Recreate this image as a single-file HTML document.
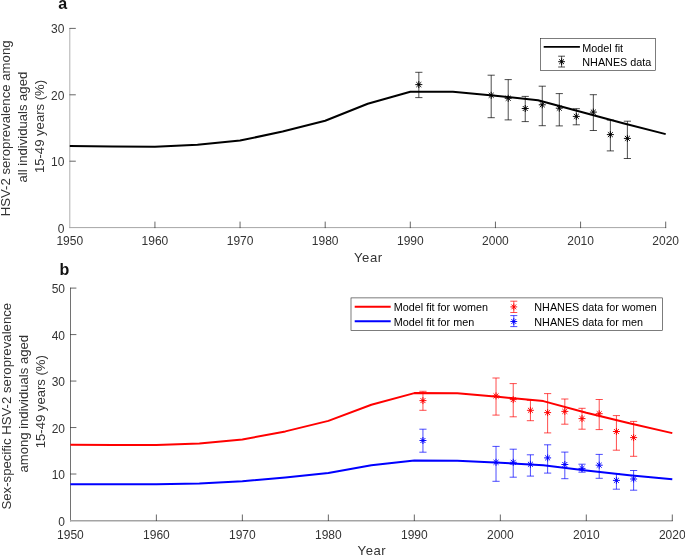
<!DOCTYPE html>
<html lang="en"><head><meta charset="utf-8"><title>HSV-2 seroprevalence model fit</title>
<style>html,body{margin:0;padding:0;background:#fff}body{width:685px;height:556px;overflow:hidden}svg{display:block;will-change:transform}text{font-family:'Liberation Sans', Arial, Helvetica, sans-serif;fill:#333}.tk{font-size:12px}.lb{font-size:13.1px}.lg{font-size:10.8px;fill:#000}.pn{font-size:16px;font-weight:bold;fill:#111}</style>
</head><body>
<svg width="685" height="556" viewBox="0 0 685 556">
<rect width="685" height="556" fill="#fff"/>
<g id="panel-a">
<text class="pn" x="58.3" y="9.2">a</text>
<path d="M69.8 28V228.1" fill="none" stroke="#b0b0b0" stroke-width="1"/>
<path d="M69.3 227.6H666.2" fill="none" stroke="#a6a6a6" stroke-width="1"/>
<path d="M69.5 161.20h6.3M69.5 94.80h6.3M69.5 28.40h6.3M154.93 228.1v-6.5M240.06 228.1v-6.5M325.19 228.1v-6.5M410.31 228.1v-6.5M495.44 228.1v-6.5M580.57 228.1v-6.5M665.70 228.1v-6.5" fill="none" stroke="#262626" stroke-width="0.7"/>
<text class="tk" x="64.4" y="232.60" text-anchor="end">0</text>
<text class="tk" x="64.4" y="166.20" text-anchor="end">10</text>
<text class="tk" x="64.4" y="99.80" text-anchor="end">20</text>
<text class="tk" x="64.4" y="33.40" text-anchor="end">30</text>
<text class="tk" x="69.80" y="245.4" text-anchor="middle">1950</text>
<text class="tk" x="154.93" y="245.4" text-anchor="middle">1960</text>
<text class="tk" x="240.06" y="245.4" text-anchor="middle">1970</text>
<text class="tk" x="325.19" y="245.4" text-anchor="middle">1980</text>
<text class="tk" x="410.31" y="245.4" text-anchor="middle">1990</text>
<text class="tk" x="495.44" y="245.4" text-anchor="middle">2000</text>
<text class="tk" x="580.57" y="245.4" text-anchor="middle">2010</text>
<text class="tk" x="665.70" y="245.4" text-anchor="middle">2020</text>
<text class="lb" x="368.35" y="262.4" text-anchor="middle" letter-spacing="0.55">Year</text>
<text class="lb" style="font-size:13.2px" transform="translate(9.8 128.4) rotate(-90)" text-anchor="middle">HSV-2 seroprevalence among</text>
<text class="lb" transform="translate(26.9 127.1) rotate(-90)" text-anchor="middle">all individuals aged</text>
<text class="lb" transform="translate(43.8 126.5) rotate(-90)" text-anchor="middle">15-49 years (%)</text>
<path d="M418.83 72.30V97.60M415.23 72.30H422.43M415.23 97.60H422.43" stroke="#000" stroke-width="0.7" fill="none"/>
<path d="M491.19 75.20V117.70M487.59 75.20H494.79M487.59 117.70H494.79" stroke="#000" stroke-width="0.7" fill="none"/>
<path d="M508.21 79.60V119.90M504.61 79.60H511.81M504.61 119.90H511.81" stroke="#000" stroke-width="0.7" fill="none"/>
<path d="M525.24 96.40V121.60M521.64 96.40H528.84M521.64 121.60H528.84" stroke="#000" stroke-width="0.7" fill="none"/>
<path d="M542.26 86.20V125.70M538.66 86.20H545.86M538.66 125.70H545.86" stroke="#000" stroke-width="0.7" fill="none"/>
<path d="M559.29 93.60V125.90M555.69 93.60H562.89M555.69 125.90H562.89" stroke="#000" stroke-width="0.7" fill="none"/>
<path d="M576.32 108.70V124.80M572.72 108.70H579.92M572.72 124.80H579.92" stroke="#000" stroke-width="0.7" fill="none"/>
<path d="M593.34 94.70V130.50M589.74 94.70H596.94M589.74 130.50H596.94" stroke="#000" stroke-width="0.7" fill="none"/>
<path d="M610.37 120.10V150.90M606.77 120.10H613.97M606.77 150.90H613.97" stroke="#000" stroke-width="0.7" fill="none"/>
<path d="M627.39 121.20V158.50M623.79 121.20H630.99M623.79 158.50H630.99" stroke="#000" stroke-width="0.7" fill="none"/>
<polyline points="69.80,146.10 112.36,146.50 154.93,146.70 197.49,144.70 240.06,140.60 282.62,131.50 325.19,120.70 367.75,103.80 410.31,91.70 452.88,91.80 495.44,95.70 538.01,100.30 580.57,111.80 623.14,123.30 665.70,134.10" fill="none" stroke="#000" stroke-width="2" stroke-linejoin="round"/>
<path d="M415.33 84.60H422.33M418.83 81.10V88.10M416.35 82.13L421.30 87.07M416.35 87.07L421.30 82.13" stroke="#000" stroke-width="0.95" fill="none"/><circle cx="418.83" cy="84.60" r="0.9" fill="#000"/>
<path d="M487.69 95.30H494.69M491.19 91.80V98.80M488.71 92.83L493.66 97.77M488.71 97.77L493.66 92.83" stroke="#000" stroke-width="0.95" fill="none"/><circle cx="491.19" cy="95.30" r="0.9" fill="#000"/>
<path d="M504.71 98.30H511.71M508.21 94.80V101.80M505.74 95.83L510.69 100.77M505.74 100.77L510.69 95.83" stroke="#000" stroke-width="0.95" fill="none"/><circle cx="508.21" cy="98.30" r="0.9" fill="#000"/>
<path d="M521.74 108.50H528.74M525.24 105.00V112.00M522.76 106.03L527.71 110.97M522.76 110.97L527.71 106.03" stroke="#000" stroke-width="0.95" fill="none"/><circle cx="525.24" cy="108.50" r="0.9" fill="#000"/>
<path d="M538.76 104.80H545.76M542.26 101.30V108.30M539.79 102.33L544.74 107.27M539.79 107.27L544.74 102.33" stroke="#000" stroke-width="0.95" fill="none"/><circle cx="542.26" cy="104.80" r="0.9" fill="#000"/>
<path d="M555.79 108.20H562.79M559.29 104.70V111.70M556.81 105.73L561.76 110.67M556.81 110.67L561.76 105.73" stroke="#000" stroke-width="0.95" fill="none"/><circle cx="559.29" cy="108.20" r="0.9" fill="#000"/>
<path d="M572.82 116.40H579.82M576.32 112.90V119.90M573.84 113.93L578.79 118.87M573.84 118.87L578.79 113.93" stroke="#000" stroke-width="0.95" fill="none"/><circle cx="576.32" cy="116.40" r="0.9" fill="#000"/>
<path d="M589.84 112.10H596.84M593.34 108.60V115.60M590.87 109.63L595.82 114.57M590.87 114.57L595.82 109.63" stroke="#000" stroke-width="0.95" fill="none"/><circle cx="593.34" cy="112.10" r="0.9" fill="#000"/>
<path d="M606.87 134.60H613.87M610.37 131.10V138.10M607.89 132.13L612.84 137.07M607.89 137.07L612.84 132.13" stroke="#000" stroke-width="0.95" fill="none"/><circle cx="610.37" cy="134.60" r="0.9" fill="#000"/>
<path d="M623.89 138.40H630.89M627.39 134.90V141.90M624.92 135.93L629.87 140.87M624.92 140.87L629.87 135.93" stroke="#000" stroke-width="0.95" fill="none"/><circle cx="627.39" cy="138.40" r="0.9" fill="#000"/>
<rect x="540.4" y="38.5" width="115.1" height="31.8" fill="#fff" stroke="#262626" stroke-width="0.6"/>
<path d="M543.7 46.9H579.9" stroke="#000" stroke-width="1.9"/>
<path d="M561.60 56.20V67.00M558.20 56.20H565.00M558.20 67.00H565.00" stroke="#000" stroke-width="0.7" fill="none"/>
<path d="M558.20 61.70H565.00M561.60 58.30V65.10M559.20 59.30L564.00 64.10M559.20 64.10L564.00 59.30" stroke="#000" stroke-width="0.95" fill="none"/><circle cx="561.60" cy="61.70" r="0.9" fill="#000"/>
<text class="lg" x="582.3" y="51.5">Model fit</text>
<text class="lg" x="582.3" y="66.1">NHANES data</text>
</g>
<g id="panel-b">
<text class="pn" x="59.6" y="274.9">b</text>
<path d="M70.5 287.7V521.4" fill="none" stroke="#727272" stroke-width="1"/>
<path d="M70 520.7H672.8" fill="none" stroke="#a4a4a4" stroke-width="1.4"/>
<path d="M70.10000000000001 474.02h6.3M70.10000000000001 427.54h6.3M70.10000000000001 381.06h6.3M70.10000000000001 334.58h6.3M70.10000000000001 288.10h6.3M156.39 521.0v-6.5M242.37 521.0v-6.5M328.36 521.0v-6.5M414.34 521.0v-6.5M500.33 521.0v-6.5M586.31 521.0v-6.5M672.30 521.0v-6.5" fill="none" stroke="#262626" stroke-width="0.7"/>
<text class="tk" x="65.0" y="525.70" text-anchor="end">0</text>
<text class="tk" x="65.0" y="479.22" text-anchor="end">10</text>
<text class="tk" x="65.0" y="432.74" text-anchor="end">20</text>
<text class="tk" x="65.0" y="386.26" text-anchor="end">30</text>
<text class="tk" x="65.0" y="339.78" text-anchor="end">40</text>
<text class="tk" x="65.0" y="293.30" text-anchor="end">50</text>
<text class="tk" x="70.40" y="538.6" text-anchor="middle">1950</text>
<text class="tk" x="156.39" y="538.6" text-anchor="middle">1960</text>
<text class="tk" x="242.37" y="538.6" text-anchor="middle">1970</text>
<text class="tk" x="328.36" y="538.6" text-anchor="middle">1980</text>
<text class="tk" x="414.34" y="538.6" text-anchor="middle">1990</text>
<text class="tk" x="500.33" y="538.6" text-anchor="middle">2000</text>
<text class="tk" x="586.31" y="538.6" text-anchor="middle">2010</text>
<text class="tk" x="672.30" y="538.6" text-anchor="middle">2020</text>
<text class="lb" x="371.95" y="555.4" text-anchor="middle" letter-spacing="0.55">Year</text>
<text class="lb" style="font-size:13.2px" transform="translate(10.8 406.2) rotate(-90)" text-anchor="middle">Sex-specific HSV-2 seroprevalence</text>
<text class="lb" transform="translate(27.6 403.7) rotate(-90)" text-anchor="middle">among individuals aged</text>
<text class="lb" transform="translate(44.5 401.7) rotate(-90)" text-anchor="middle">15-49 years (%)</text>
<path d="M422.94 391.30V410.30M419.34 391.30H426.54M419.34 410.30H426.54" stroke="#f00" stroke-width="0.7" fill="none"/>
<path d="M496.03 378.00V415.10M492.43 378.00H499.63M492.43 415.10H499.63" stroke="#f00" stroke-width="0.7" fill="none"/>
<path d="M513.23 383.60V416.80M509.63 383.60H516.83M509.63 416.80H516.83" stroke="#f00" stroke-width="0.7" fill="none"/>
<path d="M530.42 400.40V420.70M526.82 400.40H534.02M526.82 420.70H534.02" stroke="#f00" stroke-width="0.7" fill="none"/>
<path d="M547.62 393.60V432.90M544.02 393.60H551.22M544.02 432.90H551.22" stroke="#f00" stroke-width="0.7" fill="none"/>
<path d="M564.82 399.00V424.20M561.22 399.00H568.42M561.22 424.20H568.42" stroke="#f00" stroke-width="0.7" fill="none"/>
<path d="M582.01 408.30V429.20M578.41 408.30H585.62M578.41 429.20H585.62" stroke="#f00" stroke-width="0.7" fill="none"/>
<path d="M599.21 399.50V429.60M595.61 399.50H602.81M595.61 429.60H602.81" stroke="#f00" stroke-width="0.7" fill="none"/>
<path d="M616.41 415.60V450.20M612.81 415.60H620.01M612.81 450.20H620.01" stroke="#f00" stroke-width="0.7" fill="none"/>
<path d="M633.61 421.40V456.30M630.01 421.40H637.21M630.01 456.30H637.21" stroke="#f00" stroke-width="0.7" fill="none"/>
<path d="M422.94 429.20V452.20M419.34 429.20H426.54M419.34 452.20H426.54" stroke="#00f" stroke-width="0.7" fill="none"/>
<path d="M496.03 446.40V481.30M492.43 446.40H499.63M492.43 481.30H499.63" stroke="#00f" stroke-width="0.7" fill="none"/>
<path d="M513.23 449.20V477.20M509.63 449.20H516.83M509.63 477.20H516.83" stroke="#00f" stroke-width="0.7" fill="none"/>
<path d="M530.42 454.80V476.10M526.82 454.80H534.02M526.82 476.10H534.02" stroke="#00f" stroke-width="0.7" fill="none"/>
<path d="M547.62 444.80V473.10M544.02 444.80H551.22M544.02 473.10H551.22" stroke="#00f" stroke-width="0.7" fill="none"/>
<path d="M564.82 452.10V478.70M561.22 452.10H568.42M561.22 478.70H568.42" stroke="#00f" stroke-width="0.7" fill="none"/>
<path d="M582.01 464.20V472.20M578.41 464.20H585.62M578.41 472.20H585.62" stroke="#00f" stroke-width="0.7" fill="none"/>
<path d="M599.21 454.40V478.30M595.61 454.40H602.81M595.61 478.30H602.81" stroke="#00f" stroke-width="0.7" fill="none"/>
<path d="M616.41 473.60V489.20M612.81 473.60H620.01M612.81 489.20H620.01" stroke="#00f" stroke-width="0.7" fill="none"/>
<path d="M633.61 470.50V490.20M630.01 470.50H637.21M630.01 490.20H637.21" stroke="#00f" stroke-width="0.7" fill="none"/>
<polyline points="70.40,444.80 113.39,445.00 156.39,445.10 199.38,443.40 242.37,439.50 285.36,431.40 328.36,420.90 371.35,404.80 414.34,393.10 457.34,393.30 500.33,397.00 543.32,401.10 586.31,412.80 629.31,423.30 672.30,433.10" fill="none" stroke="#f00" stroke-width="2" stroke-linejoin="round"/>
<polyline points="70.40,484.20 113.39,484.20 156.39,484.20 199.38,483.40 242.37,481.30 285.36,477.50 328.36,473.10 371.35,465.30 414.34,460.40 457.34,460.80 500.33,462.80 543.32,465.20 586.31,470.50 629.31,475.20 672.30,479.30" fill="none" stroke="#00f" stroke-width="2" stroke-linejoin="round"/>
<path d="M419.44 400.60H426.44M422.94 397.10V404.10M420.47 398.13L425.42 403.07M420.47 403.07L425.42 398.13" stroke="#f00" stroke-width="0.95" fill="none"/><circle cx="422.94" cy="400.60" r="0.9" fill="#f00"/>
<path d="M492.53 395.90H499.53M496.03 392.40V399.40M493.55 393.43L498.50 398.37M493.55 398.37L498.50 393.43" stroke="#f00" stroke-width="0.95" fill="none"/><circle cx="496.03" cy="395.90" r="0.9" fill="#f00"/>
<path d="M509.73 399.60H516.73M513.23 396.10V403.10M510.75 397.13L515.70 402.07M510.75 402.07L515.70 397.13" stroke="#f00" stroke-width="0.95" fill="none"/><circle cx="513.23" cy="399.60" r="0.9" fill="#f00"/>
<path d="M526.92 410.30H533.92M530.42 406.80V413.80M527.95 407.83L532.90 412.77M527.95 412.77L532.90 407.83" stroke="#f00" stroke-width="0.95" fill="none"/><circle cx="530.42" cy="410.30" r="0.9" fill="#f00"/>
<path d="M544.12 412.60H551.12M547.62 409.10V416.10M545.15 410.13L550.10 415.07M545.15 415.07L550.10 410.13" stroke="#f00" stroke-width="0.95" fill="none"/><circle cx="547.62" cy="412.60" r="0.9" fill="#f00"/>
<path d="M561.32 411.40H568.32M564.82 407.90V414.90M562.34 408.93L567.29 413.87M562.34 413.87L567.29 408.93" stroke="#f00" stroke-width="0.95" fill="none"/><circle cx="564.82" cy="411.40" r="0.9" fill="#f00"/>
<path d="M578.51 418.60H585.51M582.01 415.10V422.10M579.54 416.13L584.49 421.07M579.54 421.07L584.49 416.13" stroke="#f00" stroke-width="0.95" fill="none"/><circle cx="582.01" cy="418.60" r="0.9" fill="#f00"/>
<path d="M595.71 413.70H602.71M599.21 410.20V417.20M596.74 411.23L601.69 416.17M596.74 416.17L601.69 411.23" stroke="#f00" stroke-width="0.95" fill="none"/><circle cx="599.21" cy="413.70" r="0.9" fill="#f00"/>
<path d="M612.91 431.50H619.91M616.41 428.00V435.00M613.93 429.03L618.88 433.97M613.93 433.97L618.88 429.03" stroke="#f00" stroke-width="0.95" fill="none"/><circle cx="616.41" cy="431.50" r="0.9" fill="#f00"/>
<path d="M630.11 437.60H637.11M633.61 434.10V441.10M631.13 435.13L636.08 440.07M631.13 440.07L636.08 435.13" stroke="#f00" stroke-width="0.95" fill="none"/><circle cx="633.61" cy="437.60" r="0.9" fill="#f00"/>
<path d="M419.44 440.50H426.44M422.94 437.00V444.00M420.47 438.03L425.42 442.97M420.47 442.97L425.42 438.03" stroke="#00f" stroke-width="0.95" fill="none"/><circle cx="422.94" cy="440.50" r="0.9" fill="#00f"/>
<path d="M492.53 462.30H499.53M496.03 458.80V465.80M493.55 459.83L498.50 464.77M493.55 464.77L498.50 459.83" stroke="#00f" stroke-width="0.95" fill="none"/><circle cx="496.03" cy="462.30" r="0.9" fill="#00f"/>
<path d="M509.73 462.30H516.73M513.23 458.80V465.80M510.75 459.83L515.70 464.77M510.75 464.77L515.70 459.83" stroke="#00f" stroke-width="0.95" fill="none"/><circle cx="513.23" cy="462.30" r="0.9" fill="#00f"/>
<path d="M526.92 464.30H533.92M530.42 460.80V467.80M527.95 461.83L532.90 466.77M527.95 466.77L532.90 461.83" stroke="#00f" stroke-width="0.95" fill="none"/><circle cx="530.42" cy="464.30" r="0.9" fill="#00f"/>
<path d="M544.12 457.90H551.12M547.62 454.40V461.40M545.15 455.43L550.10 460.37M545.15 460.37L550.10 455.43" stroke="#00f" stroke-width="0.95" fill="none"/><circle cx="547.62" cy="457.90" r="0.9" fill="#00f"/>
<path d="M561.32 464.50H568.32M564.82 461.00V468.00M562.34 462.03L567.29 466.97M562.34 466.97L567.29 462.03" stroke="#00f" stroke-width="0.95" fill="none"/><circle cx="564.82" cy="464.50" r="0.9" fill="#00f"/>
<path d="M578.51 468.40H585.51M582.01 464.90V471.90M579.54 465.93L584.49 470.87M579.54 470.87L584.49 465.93" stroke="#00f" stroke-width="0.95" fill="none"/><circle cx="582.01" cy="468.40" r="0.9" fill="#00f"/>
<path d="M595.71 465.20H602.71M599.21 461.70V468.70M596.74 462.73L601.69 467.67M596.74 467.67L601.69 462.73" stroke="#00f" stroke-width="0.95" fill="none"/><circle cx="599.21" cy="465.20" r="0.9" fill="#00f"/>
<path d="M612.91 480.40H619.91M616.41 476.90V483.90M613.93 477.93L618.88 482.87M613.93 482.87L618.88 477.93" stroke="#00f" stroke-width="0.95" fill="none"/><circle cx="616.41" cy="480.40" r="0.9" fill="#00f"/>
<path d="M630.11 479.00H637.11M633.61 475.50V482.50M631.13 476.53L636.08 481.47M631.13 481.47L636.08 476.53" stroke="#00f" stroke-width="0.95" fill="none"/><circle cx="633.61" cy="479.00" r="0.9" fill="#00f"/>
<rect x="351.0" y="297.9" width="311.6" height="32.4" fill="#fff" stroke="#262626" stroke-width="0.6"/>
<path d="M354.7 306.8H390.7" stroke="#f00" stroke-width="2"/>
<path d="M354.7 321.3H390.7" stroke="#00f" stroke-width="2"/>
<text class="lg" x="393.8" y="311.3">Model fit for women</text>
<text class="lg" x="393.8" y="325.8">Model fit for men</text>
<path d="M513.80 301.20V312.50M510.30 301.20H517.30M510.30 312.50H517.30" stroke="#f00" stroke-width="0.7" fill="none"/>
<path d="M510.40 306.90H517.20M513.80 303.50V310.30M511.40 304.50L516.20 309.30M511.40 309.30L516.20 304.50" stroke="#f00" stroke-width="0.95" fill="none"/><circle cx="513.80" cy="306.90" r="0.9" fill="#f00"/>
<path d="M513.80 315.60V326.60M510.30 315.60H517.30M510.30 326.60H517.30" stroke="#00f" stroke-width="0.7" fill="none"/>
<path d="M510.40 321.50H517.20M513.80 318.10V324.90M511.40 319.10L516.20 323.90M511.40 323.90L516.20 319.10" stroke="#00f" stroke-width="0.95" fill="none"/><circle cx="513.80" cy="321.50" r="0.9" fill="#00f"/>
<text class="lg" x="534.3" y="311.3">NHANES data for women</text>
<text class="lg" x="534.3" y="325.8">NHANES data for men</text>
</g>
</svg>
</body></html>
